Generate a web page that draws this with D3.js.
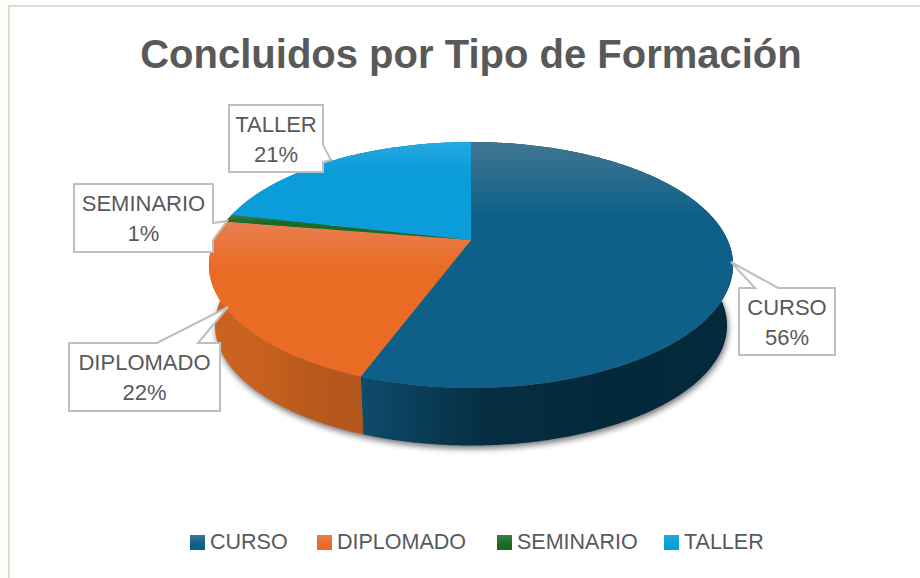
<!DOCTYPE html>
<html><head><meta charset="utf-8">
<script src="https://cdn.jsdelivr.net/npm/d3@7"></script>
<style>html,body{margin:0;padding:0;background:#fdfdf7}svg{display:block}text{font-family:"Liberation Sans",Arial,sans-serif}</style>
</head><body><div id="c"></div>
<script>
const categories = ["CURSO","DIPLOMADO","SEMINARIO","TALLER"];
const seriesValues = [55.6,21.9,1,21.4];
const titleText = "Concluidos por Tipo de Formación";
const colors = ["#0f6088","#ea6b24","#196B24","#0a9dda"];
const lightColors = ["#3f7692","#e87f52","#3a7f44","#25a8e0"];
const wallStops = [["#0d4c6c","#062e42","#03283a","#032a3c"],["#cc6320","#c8611f","#b8591c","#b3561c"],["#124d1a","#124d1a","#124d1a","#124d1a"],["#0a6f96","#0a6f96","#0a6f96","#0a6f96"]];
const W=920,H=578;
const svg=d3.select("#c").append("svg").attr("width",W).attr("height",H);
const defs=svg.append("defs");
svg.append("rect").attr("x",9).attr("y",6).attr("width",W-9+4).attr("height",H-6+4).attr("fill","#fff").attr("stroke","#dcdcdc").attr("stroke-width",2);

// perspective pie projection
const cx=471,cy=240,a=256.6,b=117.9,k=0.203,wallScale=0.977,wallDy=61;
const proj=(t,s=1,dy=0)=>{const w=1+k*Math.cos(t);return [cx+s*a*Math.sin(t)/w,cy+dy+s*-b*Math.cos(t)/w];};
const arcPts=(t0,t1,s,dy)=>{const n=Math.max(2,Math.ceil((t1-t0)/0.01));return d3.range(n+1).map(i=>proj(t0+(t1-t0)*i/n,s,dy));};
const line=d3.line();
const arcs=d3.pie().sort(null).value(d=>d)(seriesValues);

categories.forEach((c,i)=>{
  const g=defs.append("linearGradient").attr("id","top"+i).attr("x1",0).attr("y1",0).attr("x2",0).attr("y2",1);
  g.append("stop").attr("offset",0).attr("stop-color",lightColors[i]);
  g.append("stop").attr("offset",0.3).attr("stop-color",colors[i]);
  g.append("stop").attr("offset",1).attr("stop-color",colors[i]);
  const l=defs.append("linearGradient").attr("id","leg"+i).attr("x1",0).attr("y1",0).attr("x2",0).attr("y2",1);
  l.append("stop").attr("offset",0).attr("stop-color",lightColors[i]);
  l.append("stop").attr("offset",0.6).attr("stop-color",colors[i]);
  const v=defs.append("linearGradient").attr("id","wall"+i).attr("x1",0).attr("y1",0).attr("x2",1).attr("y2",0);
  wallStops[i].forEach((s,j)=>v.append("stop").attr("offset",j/3).attr("stop-color",s));
});
const f=defs.append("filter").attr("id","blur").attr("x","-10%").attr("y","-10%").attr("width","120%").attr("height","120%");
f.append("feGaussianBlur").attr("stdDeviation",3);

// soft shadow under the pie
svg.append("path").attr("d",line(arcPts(0,2*Math.PI,wallScale,wallDy+2))+"Z").attr("transform","translate(1,1)")
  .attr("fill","#000").attr("opacity",0.55).attr("filter","url(#blur)");

// outer walls
arcs.forEach((d,i)=>{
  const top=arcPts(d.startAngle,d.endAngle,1,0), bot=arcPts(d.startAngle,d.endAngle,wallScale,wallDy).reverse();
  svg.append("path").attr("d",line(top.concat(bot))+"Z").attr("fill",`url(#wall${i})`);
});
// top faces
arcs.forEach((d,i)=>{
  svg.append("path").attr("d",line([[cx,cy]].concat(arcPts(d.startAngle,d.endAngle,1,0)))+"Z").attr("fill",`url(#top${i})`);
});

// title
svg.append("text").attr("x",471).attr("y",68).attr("text-anchor","middle").attr("font-size",40).attr("font-weight",700).attr("fill","#595959").text(titleText);

// callouts (layout only)
const callouts=[
 {box:[739,288,835,355],path:b=>[[b[0],b[1]],[755,b[1]],[731,262],[778,b[1]],[b[2],b[1]],[b[2],b[3]],[b[0],b[3]]]},
 {box:[69,343,220,411],path:b=>[[b[0],b[1]],[157,b[1]],[228,307],[198,b[1]],[b[2],b[1]],[b[2],b[3]],[b[0],b[3]]]},
 {box:[74,184,213,252],path:b=>[[b[0],b[1]],[b[2],b[1]],[b[2],223],[227,221],[b[2],240],[b[2],b[3]],[b[0],b[3]]]},
 {box:[229,105,323,172],path:b=>[[b[0],b[1]],[b[2],b[1]],[b[2],145],[331,160],[b[2],162],[b[2],b[3]],[b[0],b[3]]]}
];
categories.forEach((c,i)=>{
  const o=callouts[i],bx=o.box,mx=(bx[0]+bx[2])/2;
  svg.append("path").attr("d",line(o.path(bx))+"Z").attr("fill","#fff").attr("stroke","#bfbfbf").attr("stroke-width",2);
  const t=svg.append("text").attr("text-anchor","middle").attr("font-size",22).attr("fill","#595959");
  t.append("tspan").attr("x",mx).attr("y",bx[1]+26.5).text(c);
  t.append("tspan").attr("x",mx).attr("y",bx[1]+57).text(Math.round(seriesValues[i])+"%");
});

// legend
const legendX=[190,317,497,664];
categories.forEach((c,i)=>{
  svg.append("rect").attr("x",legendX[i]).attr("y",535).attr("width",15).attr("height",15).attr("fill",`url(#leg${i})`);
  svg.append("text").attr("x",legendX[i]+20).attr("y",549).attr("font-size",21.5).attr("fill","#595959").text(c);
});
</script></body></html>
